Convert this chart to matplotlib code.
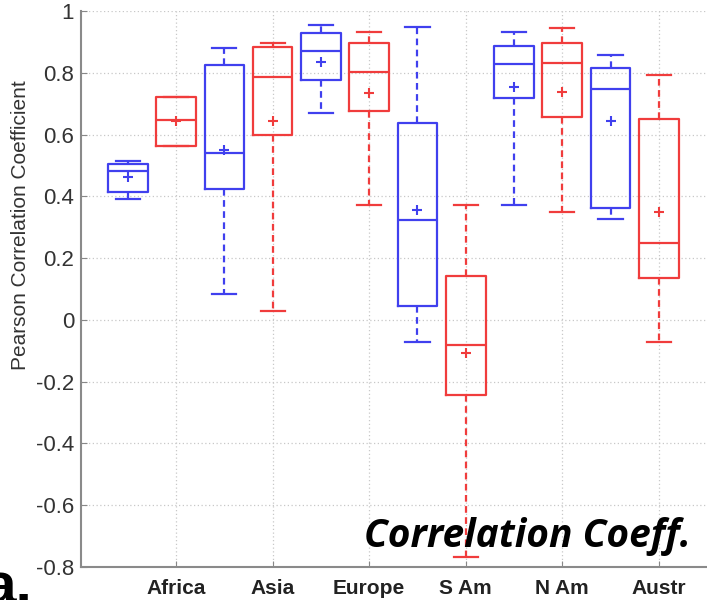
import matplotlib

matplotlib.use("Agg")
import matplotlib.pyplot as plt

# Box statistics (blue / red pair per region)
regions = ["Africa", "Asia", "Europe", "S Am", "N Am", "Austr"]

blue_whislo = [0.392, 0.085, 0.669, -0.073, 0.372, 0.328]
blue_q1 = [0.413, 0.425, 0.778, 0.044, 0.718, 0.361]
blue_med = [0.482, 0.539, 0.869, 0.322, 0.827, 0.749]
blue_q3 = [0.504, 0.826, 0.928, 0.636, 0.888, 0.815]
blue_whishi = [0.514, 0.880, 0.956, 0.948, 0.932, 0.857]
blue_mean = [0.463, 0.549, 0.836, 0.355, 0.753, 0.644]

red_whislo = [0.563, 0.030, 0.372, -0.767, 0.350, -0.071]
red_q1 = [0.563, 0.599, 0.677, -0.242, 0.658, 0.136]
red_med = [0.646, 0.786, 0.801, -0.080, 0.832, 0.250]
red_q3 = [0.723, 0.884, 0.898, 0.141, 0.898, 0.650]
red_whishi = [0.723, 0.898, 0.932, 0.372, 0.945, 0.792]
red_mean = [0.643, 0.644, 0.736, -0.107, 0.738, 0.350]

BLUE = "#4040ee"
RED = "#f03c3c"
W, H = 707, 600
SANS = ["Liberation Sans", "DejaVu Sans"]


def make_stats(lo, q1, med, q3, hi, mean):
    return [
        dict(whislo=a, q1=b, med=c, q3=d, whishi=e, mean=f, fliers=[])
        for a, b, c, d, e, f in zip(lo, q1, med, q3, hi, mean)
    ]


def draw(ax, stats, positions, color):
    ax.bxp(
        stats,
        positions=positions,
        widths=0.82,
        showmeans=True,
        showfliers=False,
        manage_ticks=False,
        boxprops=dict(color=color, linewidth=1.6),
        medianprops=dict(color=color, linewidth=1.6),
        whiskerprops=dict(color=color, linewidth=1.6, linestyle=(0, (3, 2))),
        capprops=dict(color=color, linewidth=1.6),
        capwidths=0.5,
        meanprops=dict(marker="+", markeredgecolor=color, markersize=7, markeredgewidth=1.5),
    )


fig = plt.figure(figsize=(W / 100, H / 100), dpi=100)
# axes continue past the right edge (the source picture is cropped)
left, bottom, top = 81, 567, 11
xmin, xmax = 0.03, 13.5
unit = 48.27
width = (xmax - xmin) * unit
ax = fig.add_axes([left / W, (H - bottom) / H, width / W, (bottom - top) / H])

blue_pos = [2 * i + 1 for i in range(len(regions))]
red_pos = [2 * i + 2 for i in range(len(regions))]
draw(ax, make_stats(blue_whislo, blue_q1, blue_med, blue_q3, blue_whishi, blue_mean), blue_pos, BLUE)
draw(ax, make_stats(red_whislo, red_q1, red_med, red_q3, red_whishi, red_mean), red_pos, RED)

ax.set_xlim(xmin, xmax)
ax.set_ylim(-0.8, 1.0)
ax.set_xticks(red_pos)
ax.set_xticklabels(regions, fontsize=15, fontweight="bold", color="#222222", family=SANS)
yt = [-0.8, -0.6, -0.4, -0.2, 0, 0.2, 0.4, 0.6, 0.8, 1]
ax.set_yticks(yt)
ax.set_yticklabels([f"{v:g}" for v in yt], fontsize=16, color="#333333", family=SANS)
ax.tick_params(direction="in", length=4, color="#888888", pad=5)
ax.tick_params(axis="x", pad=9)
ax.grid(True, color="#c8c8c8", linestyle=(0, (1, 2)), linewidth=0.9)
ax.set_axisbelow(True)
for side in ("top", "right"):
    ax.spines[side].set_visible(False)
for side in ("left", "bottom"):
    ax.spines[side].set_color("#8a8a8a")
    ax.spines[side].set_linewidth(1.5)

fig.text(21 / W, 1 - 225 / H, "Pearson Correlation Coefficient", rotation=90,
         ha="center", va="center", fontsize=15, color="#333333", family=SANS)
fig.text(691 / W, 1 - 537 / H, "Correlation Coeff.", ha="right", va="center",
         fontsize=28, fontweight="bold", fontstyle="italic", family="Open Sans", color="black")
fig.text(-17 / W, 1 - 604 / H, "a.", ha="left", va="baseline",
         fontsize=42, fontweight="bold", family=SANS, color="black")

fig.savefig("out.png", dpi=100)
